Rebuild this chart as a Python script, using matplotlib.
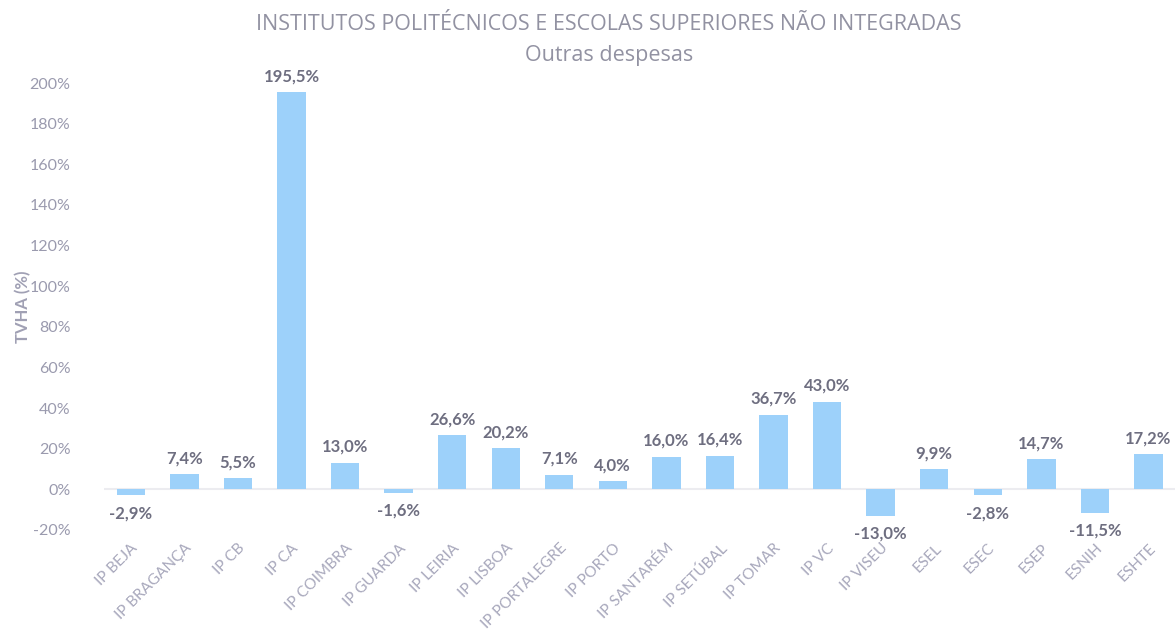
import matplotlib
matplotlib.use("Agg")
import matplotlib.pyplot as plt
from matplotlib.ticker import FuncFormatter

categories = ["IP BEJA", "IP BRAGANÇA", "IP CB", "IP CA", "IP COIMBRA", "IP GUARDA",
              "IP LEIRIA", "IP LISBOA", "IP PORTALEGRE", "IP PORTO", "IP SANTARÉM",
              "IP SETÚBAL", "IP TOMAR", "IP VC", "IP VISEU", "ESEL", "ESEC", "ESEP",
              "ESNIH", "ESHTE"]
values = [-2.9, 7.4, 5.5, 195.5, 13.0, -1.6, 26.6, 20.2, 7.1, 4.0, 16.0, 16.4,
          36.7, 43.0, -13.0, 9.9, -2.8, 14.7, -11.5, 17.2]
yticks = [-20, 0, 20, 40, 60, 80, 100, 120, 140, 160, 180, 200]

plt.rcParams['font.family'] = ['Lato', 'DejaVu Sans']

fig = plt.figure(figsize=(11.76, 6.39), dpi=100)
ax = fig.add_axes([0.0884, 0.1706, 0.911, 0.6995])

x = list(range(len(categories)))
ax.bar(x, values, width=0.53, color="#9dd1fa", zorder=2)
ax.axhline(0, color="#ececf0", lw=1.5, zorder=1)

for xi, v in zip(x, values):
    lab = f"{v:.1f}%".replace(".", ",")
    if v >= 0:
        ax.text(xi, v + 4, lab, ha="center", va="bottom", fontsize=12,
                fontweight="bold", color="#6e6e80")
    else:
        ax.text(xi, v - 5, lab, ha="center", va="top", fontsize=12,
                fontweight="bold", color="#6e6e80")

ax.set_xlim(-0.5, len(categories) - 0.5)
ax.set_ylim(-20, 200)
ax.set_yticks(yticks)
ax.yaxis.set_major_formatter(FuncFormatter(lambda v, p: f"{int(v)}%"))
ax.set_xticks(x)
ax.set_xticklabels(categories, rotation=45, ha="right", rotation_mode="anchor",
                   fontsize=11, color="#a8a8bc")
ax.tick_params(axis="y", labelsize=11.5, colors="#9a9aae", length=0, pad=24)
ax.tick_params(axis="x", length=0, pad=8)
for s in ax.spines.values():
    s.set_visible(False)

ax.set_ylabel("TVHA (%)", fontsize=12, fontweight="bold", color="#a0a0b4", labelpad=4)
ax.yaxis.set_label_coords(-0.068, 0.5)

title_font = ['Open Sans', 'DejaVu Sans']
fig.text(0.518, 0.962, "INSTITUTOS POLITÉCNICOS E ESCOLAS SUPERIORES NÃO INTEGRADAS",
         ha="center", va="center", fontsize=15.5, color="#9292a2", family=title_font)
fig.text(0.518, 0.913, "Outras despesas", ha="center", va="center", fontsize=15.5,
         color="#9292a2", family=title_font)

fig.savefig("out.png", dpi=100)
